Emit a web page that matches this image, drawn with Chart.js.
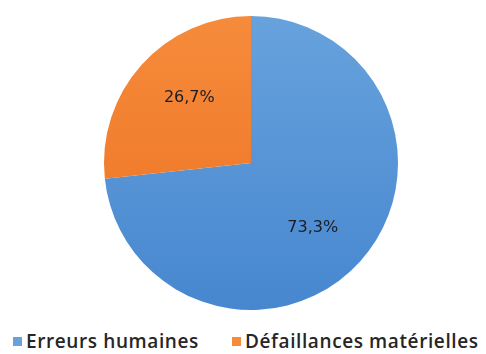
<!DOCTYPE html>
<html lang="fr">
<head>
    <meta charset="UTF-8">
    <title>Répartition des causes</title>
    <script src="https://cdn.jsdelivr.net/npm/chart.js"></script>
    <style>
        html, body {
            margin: 0;
            padding: 0;
            background: #fff;
        }
        .wrapper {
            position: relative;
            width: 486px;
            height: 354px;
        }
        .chart-container {
            width: 486px;
            height: 324px;
        }
        .legend-item {
            position: absolute;
            top: 328px;
            display: flex;
            align-items: center;
            font-family: "Open Sans", sans-serif;
            font-weight: 600;
            font-size: 19px;
            letter-spacing: 0.6px;
            color: #262626;
            white-space: nowrap;
        }
        .legend-box {
            width: 9px;
            height: 9px;
            margin-right: 4px;
        }
    </style>
</head>
<body>
    <div class="wrapper">
        <div class="chart-container">
            <canvas id="causesChart"></canvas>
        </div>
        <div id="legend"></div>
    </div>

    <script>
        const categories = ['Erreurs humaines', 'Défaillances matérielles'];
        const parts = [73.3, 26.7];
        const topColors = ['#67a2dd', '#f68b3c'];
        const bottomColors = ['#4787cf', '#ec7120'];

        // dégradé vertical léger sur chaque part
        function sliceColor(context) {
            const chart = context.chart;
            const area = chart.chartArea;
            if (!area) return topColors[context.dataIndex];
            const g = chart.ctx.createLinearGradient(0, area.top, 0, area.bottom);
            g.addColorStop(0, topColors[context.dataIndex]);
            g.addColorStop(1, bottomColors[context.dataIndex]);
            return g;
        }

        // pourcentages écrits dans chaque part, format français
        const sliceLabels = {
            id: 'sliceLabels',
            afterDatasetsDraw(chart) {
                const ctx = chart.ctx;
                const meta = chart.getDatasetMeta(0);
                ctx.save();
                ctx.font = '16px "DejaVu Sans", sans-serif';
                ctx.fillStyle = '#1c1c24';
                ctx.textAlign = 'center';
                ctx.textBaseline = 'middle';
                meta.data.forEach((arc, i) => {
                    const mid = (arc.startAngle + arc.endAngle) / 2 + 0.08;
                    const r = arc.outerRadius * 0.61;
                    const x = arc.x + Math.cos(mid) * r;
                    const y = arc.y + Math.sin(mid) * r;
                    ctx.fillText(parts[i].toFixed(1).replace('.', ',') + '%', x, y);
                });
                ctx.restore();
            }
        };

        new Chart(document.getElementById('causesChart'), {
            type: 'pie',
            data: {
                labels: categories,
                datasets: [{
                    data: parts,
                    backgroundColor: sliceColor,
                    borderWidth: 0
                }]
            },
            options: {
                responsive: true,
                maintainAspectRatio: false,
                animation: false,
                layout: {
                    padding: { top: 16, left: 16, right: 0, bottom: 14 }
                },
                plugins: {
                    tooltip: { enabled: false },
                    legend: { display: false }
                }
            },
            plugins: [sliceLabels]
        });

        // légende sous le camembert
        const legendX = [13, 232];
        const legend = document.getElementById('legend');
        categories.forEach((name, i) => {
            const item = document.createElement('div');
            item.className = 'legend-item';
            item.style.left = legendX[i] + 'px';
            const box = document.createElement('span');
            box.className = 'legend-box';
            box.style.background = topColors[i];
            const label = document.createElement('span');
            label.textContent = name;
            item.appendChild(box);
            item.appendChild(label);
            legend.appendChild(item);
        });
    </script>
</body>
</html>
